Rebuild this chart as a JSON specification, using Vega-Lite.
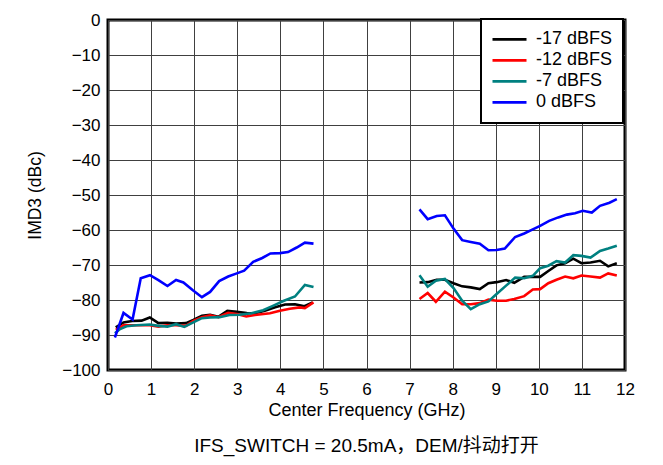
{
  "$schema": "https://vega.github.io/schema/vega-lite/v6.json",
  "width": 517,
  "height": 350,
  "autosize": {"type": "none"},
  "padding": {"left": 108, "top": 20, "right": 38, "bottom": 95},
  "background": "white",
  "title": {
    "text": "IFS_SWITCH = 20.5mA，DEM/抖动打开",
    "orient": "bottom",
    "anchor": "middle",
    "offset": 18,
    "font": "Liberation Sans, Noto Sans CJK SC",
    "fontSize": 19,
    "fontWeight": "normal",
    "color": "black"
  },
  "config": {
    "view": {"stroke": "black", "strokeWidth": 3},
    "axis": {
      "labelFont": "Liberation Sans",
      "titleFont": "Liberation Sans",
      "labelColor": "black",
      "titleColor": "black",
      "titleFontWeight": "normal",
      "domain": false,
      "ticks": false,
      "gridColor": "#404040",
      "gridWidth": 1,
      "gridOpacity": 1
    },
    "legend": {"labelFont": "Liberation Sans"}
  },
  "datasets": {
    "curves": [
      {"s": "-17 dBFS", "seg": "a", "f": 0.18, "v": -87.8},
      {"s": "-17 dBFS", "seg": "a", "f": 0.36, "v": -86.4},
      {"s": "-17 dBFS", "seg": "a", "f": 0.56, "v": -86.0},
      {"s": "-17 dBFS", "seg": "a", "f": 0.78, "v": -85.9},
      {"s": "-17 dBFS", "seg": "a", "f": 0.97, "v": -85.0},
      {"s": "-17 dBFS", "seg": "a", "f": 1.17, "v": -86.6},
      {"s": "-17 dBFS", "seg": "a", "f": 1.38, "v": -86.5},
      {"s": "-17 dBFS", "seg": "a", "f": 1.58, "v": -86.7},
      {"s": "-17 dBFS", "seg": "a", "f": 1.81, "v": -86.6},
      {"s": "-17 dBFS", "seg": "a", "f": 1.98, "v": -85.7},
      {"s": "-17 dBFS", "seg": "a", "f": 2.18, "v": -84.5},
      {"s": "-17 dBFS", "seg": "a", "f": 2.37, "v": -84.2},
      {"s": "-17 dBFS", "seg": "a", "f": 2.56, "v": -84.8},
      {"s": "-17 dBFS", "seg": "a", "f": 2.77, "v": -83.1},
      {"s": "-17 dBFS", "seg": "a", "f": 2.99, "v": -83.4},
      {"s": "-17 dBFS", "seg": "a", "f": 3.22, "v": -83.7},
      {"s": "-17 dBFS", "seg": "a", "f": 3.41, "v": -83.8},
      {"s": "-17 dBFS", "seg": "a", "f": 3.64, "v": -83.1},
      {"s": "-17 dBFS", "seg": "a", "f": 3.88, "v": -82.1},
      {"s": "-17 dBFS", "seg": "a", "f": 4.11, "v": -81.3},
      {"s": "-17 dBFS", "seg": "a", "f": 4.34, "v": -81.2},
      {"s": "-17 dBFS", "seg": "a", "f": 4.56, "v": -81.8},
      {"s": "-17 dBFS", "seg": "a", "f": 4.75, "v": -80.7},
      {"s": "-17 dBFS", "seg": "b", "f": 7.23, "v": -75.0},
      {"s": "-17 dBFS", "seg": "b", "f": 7.42, "v": -74.9},
      {"s": "-17 dBFS", "seg": "b", "f": 7.63, "v": -74.2},
      {"s": "-17 dBFS", "seg": "b", "f": 7.82, "v": -74.2},
      {"s": "-17 dBFS", "seg": "b", "f": 8.02, "v": -75.2},
      {"s": "-17 dBFS", "seg": "b", "f": 8.22, "v": -76.1},
      {"s": "-17 dBFS", "seg": "b", "f": 8.42, "v": -76.4},
      {"s": "-17 dBFS", "seg": "b", "f": 8.63, "v": -76.9},
      {"s": "-17 dBFS", "seg": "b", "f": 8.83, "v": -75.2},
      {"s": "-17 dBFS", "seg": "b", "f": 9.02, "v": -74.9},
      {"s": "-17 dBFS", "seg": "b", "f": 9.24, "v": -74.3},
      {"s": "-17 dBFS", "seg": "b", "f": 9.43, "v": -75.1},
      {"s": "-17 dBFS", "seg": "b", "f": 9.66, "v": -73.4},
      {"s": "-17 dBFS", "seg": "b", "f": 9.86, "v": -73.4},
      {"s": "-17 dBFS", "seg": "b", "f": 10.03, "v": -73.4},
      {"s": "-17 dBFS", "seg": "b", "f": 10.22, "v": -71.7},
      {"s": "-17 dBFS", "seg": "b", "f": 10.41, "v": -70.1},
      {"s": "-17 dBFS", "seg": "b", "f": 10.61, "v": -69.5},
      {"s": "-17 dBFS", "seg": "b", "f": 10.8, "v": -68.2},
      {"s": "-17 dBFS", "seg": "b", "f": 10.99, "v": -69.5},
      {"s": "-17 dBFS", "seg": "b", "f": 11.2, "v": -69.3},
      {"s": "-17 dBFS", "seg": "b", "f": 11.42, "v": -68.8},
      {"s": "-17 dBFS", "seg": "b", "f": 11.61, "v": -70.4},
      {"s": "-17 dBFS", "seg": "b", "f": 11.81, "v": -69.5},

      {"s": "-12 dBFS", "seg": "a", "f": 0.18, "v": -88.5},
      {"s": "-12 dBFS", "seg": "a", "f": 0.36, "v": -87.2},
      {"s": "-12 dBFS", "seg": "a", "f": 0.59, "v": -87.2},
      {"s": "-12 dBFS", "seg": "a", "f": 0.82, "v": -87.2},
      {"s": "-12 dBFS", "seg": "a", "f": 0.97, "v": -87.2},
      {"s": "-12 dBFS", "seg": "a", "f": 1.17, "v": -87.6},
      {"s": "-12 dBFS", "seg": "a", "f": 1.38, "v": -87.2},
      {"s": "-12 dBFS", "seg": "a", "f": 1.58, "v": -87.2},
      {"s": "-12 dBFS", "seg": "a", "f": 1.81, "v": -87.4},
      {"s": "-12 dBFS", "seg": "a", "f": 1.98, "v": -86.0},
      {"s": "-12 dBFS", "seg": "a", "f": 2.18, "v": -84.9},
      {"s": "-12 dBFS", "seg": "a", "f": 2.37, "v": -84.4},
      {"s": "-12 dBFS", "seg": "a", "f": 2.56, "v": -84.9},
      {"s": "-12 dBFS", "seg": "a", "f": 2.79, "v": -83.7},
      {"s": "-12 dBFS", "seg": "a", "f": 2.99, "v": -84.0},
      {"s": "-12 dBFS", "seg": "a", "f": 3.21, "v": -84.7},
      {"s": "-12 dBFS", "seg": "a", "f": 3.41, "v": -84.3},
      {"s": "-12 dBFS", "seg": "a", "f": 3.76, "v": -83.8},
      {"s": "-12 dBFS", "seg": "a", "f": 3.99, "v": -83.1},
      {"s": "-12 dBFS", "seg": "a", "f": 4.22, "v": -82.5},
      {"s": "-12 dBFS", "seg": "a", "f": 4.45, "v": -82.1},
      {"s": "-12 dBFS", "seg": "a", "f": 4.57, "v": -82.3},
      {"s": "-12 dBFS", "seg": "a", "f": 4.77, "v": -80.7},
      {"s": "-12 dBFS", "seg": "b", "f": 7.23, "v": -79.7},
      {"s": "-12 dBFS", "seg": "b", "f": 7.42, "v": -78.0},
      {"s": "-12 dBFS", "seg": "b", "f": 7.61, "v": -80.5},
      {"s": "-12 dBFS", "seg": "b", "f": 7.82, "v": -77.6},
      {"s": "-12 dBFS", "seg": "b", "f": 8.02, "v": -79.3},
      {"s": "-12 dBFS", "seg": "b", "f": 8.22, "v": -81.2},
      {"s": "-12 dBFS", "seg": "b", "f": 8.42, "v": -81.2},
      {"s": "-12 dBFS", "seg": "b", "f": 8.63, "v": -80.9},
      {"s": "-12 dBFS", "seg": "b", "f": 8.83, "v": -79.9},
      {"s": "-12 dBFS", "seg": "b", "f": 9.02, "v": -80.2},
      {"s": "-12 dBFS", "seg": "b", "f": 9.24, "v": -80.2},
      {"s": "-12 dBFS", "seg": "b", "f": 9.43, "v": -79.7},
      {"s": "-12 dBFS", "seg": "b", "f": 9.66, "v": -78.9},
      {"s": "-12 dBFS", "seg": "b", "f": 9.86, "v": -77.0},
      {"s": "-12 dBFS", "seg": "b", "f": 10.03, "v": -76.9},
      {"s": "-12 dBFS", "seg": "b", "f": 10.22, "v": -75.2},
      {"s": "-12 dBFS", "seg": "b", "f": 10.41, "v": -74.2},
      {"s": "-12 dBFS", "seg": "b", "f": 10.61, "v": -73.3},
      {"s": "-12 dBFS", "seg": "b", "f": 10.8, "v": -73.8},
      {"s": "-12 dBFS", "seg": "b", "f": 10.99, "v": -73.0},
      {"s": "-12 dBFS", "seg": "b", "f": 11.2, "v": -73.3},
      {"s": "-12 dBFS", "seg": "b", "f": 11.42, "v": -73.6},
      {"s": "-12 dBFS", "seg": "b", "f": 11.61, "v": -72.4},
      {"s": "-12 dBFS", "seg": "b", "f": 11.81, "v": -73.0},

      {"s": "-7 dBFS", "seg": "a", "f": 0.16, "v": -89.5},
      {"s": "-7 dBFS", "seg": "a", "f": 0.28, "v": -88.3},
      {"s": "-7 dBFS", "seg": "a", "f": 0.43, "v": -87.5},
      {"s": "-7 dBFS", "seg": "a", "f": 0.66, "v": -87.2},
      {"s": "-7 dBFS", "seg": "a", "f": 0.97, "v": -87.0},
      {"s": "-7 dBFS", "seg": "a", "f": 1.17, "v": -87.4},
      {"s": "-7 dBFS", "seg": "a", "f": 1.38, "v": -87.6},
      {"s": "-7 dBFS", "seg": "a", "f": 1.58, "v": -86.9},
      {"s": "-7 dBFS", "seg": "a", "f": 1.77, "v": -87.7},
      {"s": "-7 dBFS", "seg": "a", "f": 1.98, "v": -86.4},
      {"s": "-7 dBFS", "seg": "a", "f": 2.18, "v": -85.2},
      {"s": "-7 dBFS", "seg": "a", "f": 2.37, "v": -85.0},
      {"s": "-7 dBFS", "seg": "a", "f": 2.59, "v": -84.9},
      {"s": "-7 dBFS", "seg": "a", "f": 2.82, "v": -84.3},
      {"s": "-7 dBFS", "seg": "a", "f": 3.06, "v": -84.2},
      {"s": "-7 dBFS", "seg": "a", "f": 3.33, "v": -83.8},
      {"s": "-7 dBFS", "seg": "a", "f": 3.6, "v": -82.9},
      {"s": "-7 dBFS", "seg": "a", "f": 3.84, "v": -81.6},
      {"s": "-7 dBFS", "seg": "a", "f": 4.07, "v": -80.3},
      {"s": "-7 dBFS", "seg": "a", "f": 4.34, "v": -79.0},
      {"s": "-7 dBFS", "seg": "a", "f": 4.57, "v": -75.7},
      {"s": "-7 dBFS", "seg": "a", "f": 4.77, "v": -76.3},
      {"s": "-7 dBFS", "seg": "b", "f": 7.23, "v": -72.9},
      {"s": "-7 dBFS", "seg": "b", "f": 7.42, "v": -76.2},
      {"s": "-7 dBFS", "seg": "b", "f": 7.61, "v": -74.5},
      {"s": "-7 dBFS", "seg": "b", "f": 7.82, "v": -74.0},
      {"s": "-7 dBFS", "seg": "b", "f": 8.02, "v": -76.6},
      {"s": "-7 dBFS", "seg": "b", "f": 8.22, "v": -80.2},
      {"s": "-7 dBFS", "seg": "b", "f": 8.42, "v": -82.6},
      {"s": "-7 dBFS", "seg": "b", "f": 8.63, "v": -81.2},
      {"s": "-7 dBFS", "seg": "b", "f": 8.83, "v": -80.4},
      {"s": "-7 dBFS", "seg": "b", "f": 9.02, "v": -78.3},
      {"s": "-7 dBFS", "seg": "b", "f": 9.24, "v": -75.9},
      {"s": "-7 dBFS", "seg": "b", "f": 9.45, "v": -73.6},
      {"s": "-7 dBFS", "seg": "b", "f": 9.66, "v": -73.8},
      {"s": "-7 dBFS", "seg": "b", "f": 9.86, "v": -73.1},
      {"s": "-7 dBFS", "seg": "b", "f": 10.03, "v": -70.9},
      {"s": "-7 dBFS", "seg": "b", "f": 10.22, "v": -70.2},
      {"s": "-7 dBFS", "seg": "b", "f": 10.41, "v": -68.9},
      {"s": "-7 dBFS", "seg": "b", "f": 10.61, "v": -69.3},
      {"s": "-7 dBFS", "seg": "b", "f": 10.8, "v": -67.2},
      {"s": "-7 dBFS", "seg": "b", "f": 10.99, "v": -67.4},
      {"s": "-7 dBFS", "seg": "b", "f": 11.2, "v": -67.9},
      {"s": "-7 dBFS", "seg": "b", "f": 11.42, "v": -66.0},
      {"s": "-7 dBFS", "seg": "b", "f": 11.61, "v": -65.3},
      {"s": "-7 dBFS", "seg": "b", "f": 11.81, "v": -64.5},

      {"s": "0 dBFS", "seg": "a", "f": 0.16, "v": -90.7},
      {"s": "0 dBFS", "seg": "a", "f": 0.36, "v": -83.7},
      {"s": "0 dBFS", "seg": "a", "f": 0.57, "v": -85.6},
      {"s": "0 dBFS", "seg": "a", "f": 0.76, "v": -73.8},
      {"s": "0 dBFS", "seg": "a", "f": 0.975, "v": -72.9},
      {"s": "0 dBFS", "seg": "a", "f": 1.17, "v": -74.3},
      {"s": "0 dBFS", "seg": "a", "f": 1.38, "v": -76.0},
      {"s": "0 dBFS", "seg": "a", "f": 1.58, "v": -74.3},
      {"s": "0 dBFS", "seg": "a", "f": 1.75, "v": -75.0},
      {"s": "0 dBFS", "seg": "a", "f": 1.97, "v": -77.2},
      {"s": "0 dBFS", "seg": "a", "f": 2.18, "v": -79.2},
      {"s": "0 dBFS", "seg": "a", "f": 2.37, "v": -77.7},
      {"s": "0 dBFS", "seg": "a", "f": 2.58, "v": -74.6},
      {"s": "0 dBFS", "seg": "a", "f": 2.79, "v": -73.3},
      {"s": "0 dBFS", "seg": "a", "f": 2.99, "v": -72.4},
      {"s": "0 dBFS", "seg": "a", "f": 3.16, "v": -71.6},
      {"s": "0 dBFS", "seg": "a", "f": 3.37, "v": -69.1},
      {"s": "0 dBFS", "seg": "a", "f": 3.58, "v": -68.0},
      {"s": "0 dBFS", "seg": "a", "f": 3.77, "v": -66.7},
      {"s": "0 dBFS", "seg": "a", "f": 3.99, "v": -66.6},
      {"s": "0 dBFS", "seg": "a", "f": 4.18, "v": -66.3},
      {"s": "0 dBFS", "seg": "a", "f": 4.38, "v": -65.0},
      {"s": "0 dBFS", "seg": "a", "f": 4.57, "v": -63.6},
      {"s": "0 dBFS", "seg": "a", "f": 4.77, "v": -63.9},
      {"s": "0 dBFS", "seg": "b", "f": 7.23, "v": -54.1},
      {"s": "0 dBFS", "seg": "b", "f": 7.42, "v": -56.9},
      {"s": "0 dBFS", "seg": "b", "f": 7.63, "v": -56.0},
      {"s": "0 dBFS", "seg": "b", "f": 7.82, "v": -55.8},
      {"s": "0 dBFS", "seg": "b", "f": 8.02, "v": -59.6},
      {"s": "0 dBFS", "seg": "b", "f": 8.22, "v": -62.9},
      {"s": "0 dBFS", "seg": "b", "f": 8.42, "v": -63.4},
      {"s": "0 dBFS", "seg": "b", "f": 8.63, "v": -63.9},
      {"s": "0 dBFS", "seg": "b", "f": 8.83, "v": -65.8},
      {"s": "0 dBFS", "seg": "b", "f": 9.02, "v": -65.7},
      {"s": "0 dBFS", "seg": "b", "f": 9.21, "v": -65.3},
      {"s": "0 dBFS", "seg": "b", "f": 9.45, "v": -62.0},
      {"s": "0 dBFS", "seg": "b", "f": 9.66, "v": -61.0},
      {"s": "0 dBFS", "seg": "b", "f": 9.86, "v": -59.8},
      {"s": "0 dBFS", "seg": "b", "f": 10.03, "v": -58.8},
      {"s": "0 dBFS", "seg": "b", "f": 10.24, "v": -57.4},
      {"s": "0 dBFS", "seg": "b", "f": 10.45, "v": -56.4},
      {"s": "0 dBFS", "seg": "b", "f": 10.65, "v": -55.6},
      {"s": "0 dBFS", "seg": "b", "f": 10.84, "v": -55.2},
      {"s": "0 dBFS", "seg": "b", "f": 11.02, "v": -54.5},
      {"s": "0 dBFS", "seg": "b", "f": 11.23, "v": -55.0},
      {"s": "0 dBFS", "seg": "b", "f": 11.42, "v": -53.1},
      {"s": "0 dBFS", "seg": "b", "f": 11.64, "v": -52.2},
      {"s": "0 dBFS", "seg": "b", "f": 11.81, "v": -51.2}
    ]
  },
  "data": {"name": "curves"},
  "mark": {"type": "line", "strokeWidth": 2.6, "clip": true},
  "encoding": {
    "x": {
      "field": "f",
      "type": "quantitative",
      "scale": {"domain": [0, 12], "nice": false, "zero": false},
      "axis": {
        "values": [0, 1, 2, 3, 4, 5, 6, 7, 8, 9, 10, 11, 12],
        "title": "Center Frequency (GHz)",
        "labelFontSize": 17,
        "titleFontSize": 18,
        "labelPadding": 11,
        "titlePadding": 4,
        "labelFlush": false
      }
    },
    "y": {
      "field": "v",
      "type": "quantitative",
      "scale": {"domain": [-100, 0], "nice": false, "zero": false},
      "axis": {
        "values": [-100, -90, -80, -70, -60, -50, -40, -30, -20, -10, 0],
        "title": "IMD3 (dBc)",
        "labelFontSize": 17,
        "titleFontSize": 17.5,
        "labelPadding": 8,
        "titlePadding": 17,
        "labelFlush": false
      }
    },
    "detail": {"field": "seg"},
    "color": {
      "field": "s",
      "type": "nominal",
      "sort": ["-17 dBFS", "-12 dBFS", "-7 dBFS", "0 dBFS"],
      "scale": {
        "domain": ["-17 dBFS", "-12 dBFS", "-7 dBFS", "0 dBFS"],
        "range": ["#000000", "#ff0000", "#008080", "#0000ff"]
      },
      "legend": {
        "title": null,
        "orient": "none",
        "legendX": 373,
        "legendY": -1,
        "symbolType": "stroke",
        "symbolSize": 1156,
        "symbolStrokeWidth": 2.6,
        "labelFontSize": 18,
        "labelColor": "black",
        "labelOffset": 8,
        "clipHeight": 20.7,
        "rowPadding": 0,
        "padding": 10,
        "strokeColor": "black",
        "fillColor": "white",
        "encode": {"legend": {"update": {"strokeWidth": {"value": 2}}}}
      }
    }
  }
}
